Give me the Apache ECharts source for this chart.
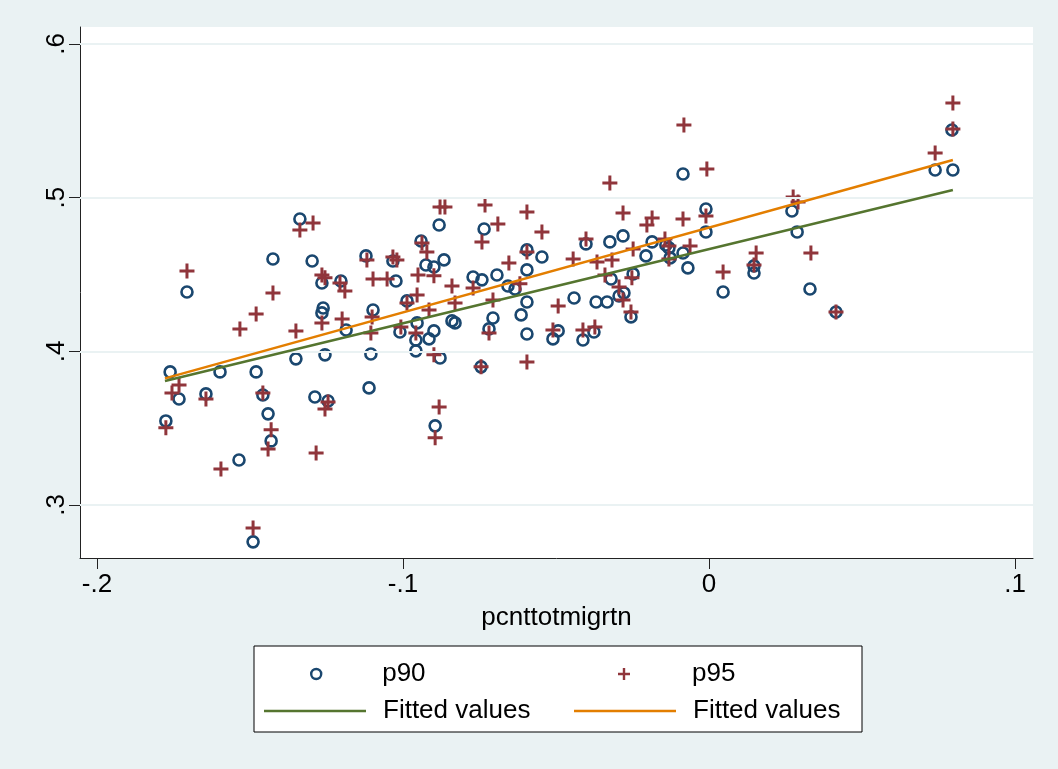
<!DOCTYPE html>
<html><head><meta charset="utf-8">
<script src="https://cdn.jsdelivr.net/npm/echarts@6/dist/echarts.min.js"></script>
<style>html,body{margin:0;padding:0;background:#EAF2F3;}#c{width:1058px;height:769px;}</style>
</head><body><div id="c"></div>
<script>
const xTicks = [-0.2, -0.1, 0, 0.1];
const yTicks = [0.3, 0.4, 0.5, 0.6];
const xTitle = 'pcnttotmigrtn';

const p90 = [
[-0.1775,0.3547],[-0.1761,0.3866],[-0.1732,0.3690],[-0.1706,0.4386],[-0.1644,0.3723],[-0.1598,0.3866],
[-0.1536,0.3293],[-0.1490,0.2760],[-0.1480,0.3866],[-0.1458,0.3716],[-0.1441,0.3593],[-0.1431,0.3417],
[-0.1425,0.4601],[-0.1350,0.3951],[-0.1337,0.4861],[-0.1297,0.4588],[-0.1288,0.3703],[-0.1265,0.4445],
[-0.1261,0.4282],[-0.1265,0.4250],[-0.1255,0.3977],[-0.1245,0.3677],[-0.1203,0.4458],[-0.1186,0.4139],
[-0.1121,0.4621],[-0.1105,0.3983],[-0.1111,0.3762],[-0.1098,0.4269],[-0.1033,0.4588],[-0.1023,0.4458],
[-0.1010,0.4126],[-0.0987,0.4328],[-0.0958,0.4074],[-0.0958,0.4003],[-0.0954,0.4185],[-0.0941,0.4718],
[-0.0925,0.4562],[-0.0915,0.4081],[-0.0899,0.4549],[-0.0899,0.4133],[-0.0895,0.3515],[-0.0882,0.4822],
[-0.0879,0.3957],[-0.0866,0.4595],[-0.0840,0.4198],[-0.0830,0.4185],[-0.0771,0.4484],[-0.0745,0.3899],
[-0.0742,0.4465],[-0.0735,0.4796],[-0.0719,0.4146],[-0.0706,0.4217],[-0.0693,0.4497],[-0.0657,0.4425],
[-0.0634,0.4406],[-0.0614,0.4237],[-0.0595,0.4660],[-0.0595,0.4530],[-0.0595,0.4321],[-0.0595,0.4113],
[-0.0546,0.4614],[-0.0510,0.4081],[-0.0493,0.4133],[-0.0441,0.4347],[-0.0412,0.4074],[-0.0402,0.4699],
[-0.0376,0.4126],[-0.0369,0.4321],[-0.0333,0.4321],[-0.0324,0.4712],[-0.0320,0.4471],[-0.0294,0.4360],
[-0.0278,0.4380],[-0.0281,0.4751],[-0.0255,0.4224],[-0.0248,0.4504],[-0.0206,0.4621],[-0.0186,0.4712],
[-0.0141,0.4692],[-0.0131,0.4673],[-0.0127,0.4608],[-0.0085,0.5154],[-0.0085,0.4640],[-0.0069,0.4543],
[-0.0010,0.4926],[-0.0010,0.4777],[0.0046,0.4386],[0.0147,0.4556],[0.0147,0.4510],[0.0271,0.4913],
[0.0288,0.4777],[0.0330,0.4406],[0.0415,0.4256],[0.0739,0.5180],[0.0794,0.5440],[0.0797,0.5180]
];

const p95 = [
[-0.1775,0.3502],[-0.1755,0.3729],[-0.1732,0.3781],[-0.1706,0.4523],[-0.1644,0.3690],[-0.1595,0.3235],
[-0.1533,0.4146],[-0.1490,0.2851],[-0.1480,0.4243],[-0.1458,0.3729],[-0.1441,0.3365],[-0.1431,0.3489],
[-0.1425,0.4380],[-0.1350,0.4133],[-0.1337,0.4790],[-0.1294,0.4835],[-0.1284,0.3339],[-0.1265,0.4497],
[-0.1255,0.4478],[-0.1265,0.4185],[-0.1255,0.3625],[-0.1245,0.3671],[-0.1199,0.4211],[-0.1206,0.4445],
[-0.1190,0.4393],[-0.1118,0.4595],[-0.1105,0.4120],[-0.1101,0.4224],[-0.1098,0.4471],[-0.1052,0.4471],
[-0.1033,0.4614],[-0.1020,0.4595],[-0.1007,0.4159],[-0.0987,0.4315],[-0.0958,0.4120],[-0.0954,0.4367],
[-0.0951,0.4497],[-0.0938,0.4705],[-0.0922,0.4647],[-0.0915,0.4269],[-0.0899,0.4491],[-0.0899,0.3977],
[-0.0895,0.3437],[-0.0882,0.3638],[-0.0879,0.4939],[-0.0863,0.4939],[-0.0840,0.4425],[-0.0830,0.4315],
[-0.0771,0.4412],[-0.0745,0.3899],[-0.0742,0.4712],[-0.0732,0.4953],[-0.0719,0.4120],[-0.0706,0.4334],
[-0.0690,0.4829],[-0.0654,0.4575],[-0.0618,0.4439],[-0.0595,0.4907],[-0.0595,0.4647],[-0.0595,0.3931],
[-0.0546,0.4777],[-0.0510,0.4139],[-0.0493,0.4295],[-0.0444,0.4601],[-0.0412,0.4139],[-0.0402,0.4731],
[-0.0373,0.4159],[-0.0366,0.4582],[-0.0340,0.4497],[-0.0324,0.5096],[-0.0317,0.4595],[-0.0294,0.4419],
[-0.0281,0.4900],[-0.0281,0.4334],[-0.0255,0.4256],[-0.0252,0.4478],[-0.0248,0.4666],[-0.0203,0.4822],
[-0.0186,0.4868],[-0.0144,0.4731],[-0.0131,0.4686],[-0.0131,0.4601],[-0.0085,0.4861],[-0.0082,0.5473],
[-0.0062,0.4686],[-0.0010,0.4881],[-0.0007,0.5187],[0.0046,0.4517],[0.0147,0.4562],[0.0154,0.4640],
[0.0275,0.5005],[0.0291,0.4972],[0.0333,0.4640],[0.0415,0.4256],[0.0739,0.5291],[0.0797,0.5616],
[0.0797,0.5447]
];

const fitP90 = [[-0.1778, 0.3807], [0.0797, 0.5050]];
const fitP95 = [[-0.1778, 0.3824], [0.0797, 0.5245]];

const FONT = "'Liberation Sans', Arial, sans-serif";
const FS = 26;
const C90 = '#1A476F', C95 = '#90353B', CG = '#55752F', CO = '#E37E00';
const PLUS = 'path://M5.6,0H8.4V5.6H14V8.4H8.4V14H5.6V8.4H0V5.6H5.6Z';

function fmt(v) {
  if (Math.abs(v) < 1e-9) return '0';
  return (Math.round(v * 10) / 10).toFixed(1).replace('0.', '.');
}

const chart = echarts.init(document.getElementById('c'), null, {renderer: 'canvas'});

function legendItem(item, left, top, iw, ih, textPad, extra) {
  return Object.assign({
    data: [item], left: left, top: top, orient: 'horizontal', padding: 0,
    itemWidth: iw, itemHeight: ih, selectedMode: false,
    formatter: function (n) { return n.replace(/ \(.*\)$/, ''); },
    textStyle: {fontFamily: FONT, fontSize: FS, color: '#000', lineHeight: 30, padding: [0, 0, 0, textPad]}
  }, extra || {});
}

chart.setOption({
  backgroundColor: '#EAF2F3',
  animation: false,
  textStyle: {fontFamily: FONT},
  grid: {left: 80, top: 27, width: 953, height: 531, show: true, backgroundColor: '#ffffff', borderWidth: 0, containLabel: false},
  xAxis: {
    type: 'value', min: -0.20556, max: 0.10588,
    name: xTitle, nameLocation: 'middle', nameGap: 47,
    nameTextStyle: {fontFamily: FONT, fontSize: FS, color: '#000'},
    axisLine: {show: true, onZero: false, lineStyle: {color: '#222', width: 1}},
    axisTick: {show: true, length: 11, customValues: xTicks, lineStyle: {color: '#222', width: 1}},
    axisLabel: {customValues: xTicks, formatter: fmt, margin: 14, fontFamily: FONT, fontSize: FS, color: '#000'},
    splitLine: {show: false}
  },
  yAxis: {
    type: 'value', min: 0.2655, max: 0.61106,
    axisLine: {show: true, onZero: false, lineStyle: {color: '#222', width: 1}},
    axisTick: {show: true, length: 11, customValues: yTicks, lineStyle: {color: '#222', width: 1}},
    axisLabel: {customValues: yTicks, formatter: fmt, rotate: 90, margin: 10, fontFamily: FONT, fontSize: FS, color: '#000'},
    splitLine: {show: false}
  },
  graphic: [{
    type: 'rect', z: 0, shape: {x: 254, y: 646, width: 608, height: 86},
    style: {fill: '#ffffff', stroke: '#000', lineWidth: 1}
  }],
  legend: [
    legendItem({name: 'p90', icon: 'circle'}, 310, 659, 10, 10, 56,
      {itemStyle: {borderWidth: 2.4, borderColor: C90, color: 'rgba(255,255,255,0)'}}),
    legendItem({name: 'p95', icon: PLUS}, 618, 659, 12, 12, 57),
    legendItem({name: 'Fitted values (p90)', icon: 'rect'}, 264, 696, 102, 2.5, 12),
    legendItem({name: 'Fitted values (p95)', icon: 'rect'}, 574, 696, 102, 2.5, 12)
  ],
  series: [
    {
      name: 'grid', type: 'line', data: [], z: 1, silent: true,
      markLine: {
        silent: true, symbol: 'none', label: {show: false},
        lineStyle: {color: '#EAF2F3', width: 2, type: 'solid'},
        data: yTicks.map(v => ({yAxis: v}))
      }
    },
    {
      name: 'p90', type: 'scatter', data: p90, z: 3,
      symbol: 'circle', symbolSize: 11,
      itemStyle: {color: 'rgba(255,255,255,0)', borderColor: C90, borderWidth: 2.6, opacity: 1}
    },
    {
      name: 'p95', type: 'scatter', data: p95, z: 4,
      symbol: PLUS, symbolSize: 15,
      itemStyle: {color: C95, opacity: 1}
    },
    {
      name: 'Fitted values (p90)', type: 'line', data: fitP90, z: 5,
      showSymbol: false, symbol: 'none',
      lineStyle: {color: CG, width: 2.5}, itemStyle: {color: CG}
    },
    {
      name: 'Fitted values (p95)', type: 'line', data: fitP95, z: 5,
      showSymbol: false, symbol: 'none',
      lineStyle: {color: CO, width: 2.5}, itemStyle: {color: CO}
    }
  ]
});
</script>
</body></html>
